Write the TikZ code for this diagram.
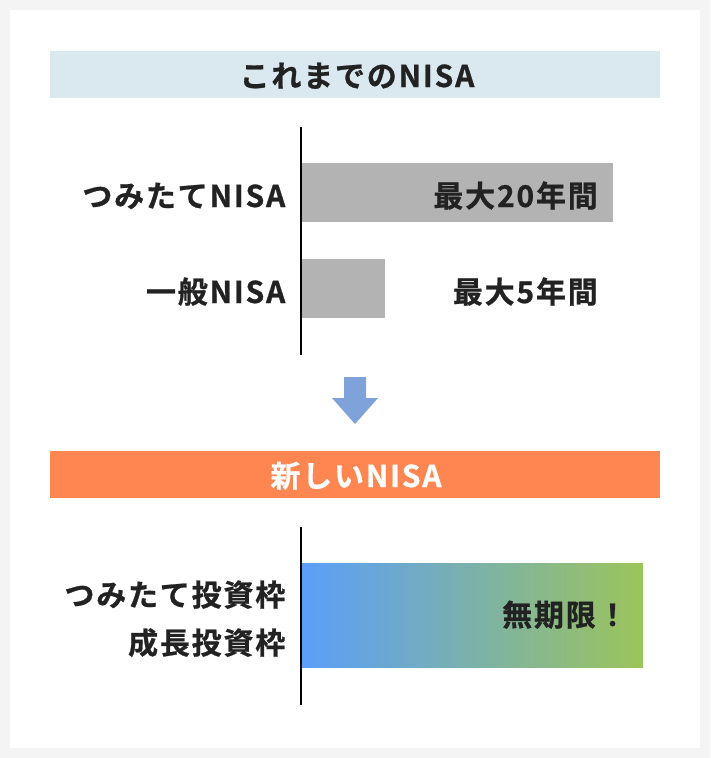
\documentclass[tikz,border=0pt]{standalone}
\usepackage{fontspec}
\newfontfamily\jp{Noto Sans CJK JP}[BoldFont={Noto Sans CJK JP Bold}, BoldFeatures={FakeBold=0.8}, LetterSpace=6]
\definecolor{pagebg}{HTML}{F4F4F4}
\definecolor{txt}{HTML}{222222}
\definecolor{headblue}{HTML}{DAE8EF}
\definecolor{headorange}{HTML}{FF8650}
\definecolor{bargray}{HTML}{B3B3B3}
\definecolor{arrowblue}{HTML}{80A2DB}
\definecolor{gradL}{HTML}{5B9EFA}
\definecolor{gradR}{HTML}{9CC45A}
\tikzset{
  lbl/.style={inner sep=0pt, text=txt, font=\jp\bfseries\fontsize{30}{35}\selectfont},
  axis/.style={line width=2pt, draw=black},
}
\begin{document}
\begin{tikzpicture}[x=1pt,y=-1pt]
\fill[pagebg] (0,0) rectangle (710,758);
\useasboundingbox (0,0) rectangle (710,758);
\fill[white] (10,10) rectangle (700,748);
% header 1
\fill[headblue] (50,51) rectangle (660,98);
\node[lbl, anchor=base] (h1) at (357,87) {これまでのNISA};
% bars
\draw[axis] (301,127) coordinate (ax1top) -- (301,355) coordinate (ax1bot);
\fill[bargray] (302,163) rectangle (613,222);
\fill[bargray] (302,259) rectangle (385,318);
\node[lbl, anchor=base east] (l1) at (285.5,207) {つみたてNISA};
\node[lbl, anchor=base east] (l2) at (285.5,303) {一般NISA};
\node[lbl, anchor=base east] (v1) at (598,207) {最大20年間};
\node[lbl, anchor=base east] (v2) at (598,303) {最大5年間};
% arrow
\fill[arrowblue] (344,377) -- (366,377) -- (366,398) -- (378,398) -- (355,424) -- (332,398) -- (344,398) -- cycle;
% header 2
\fill[headorange] (50,451) rectangle (660,498);
\node[lbl, anchor=base, text=white] (h2) at (356,487) {新しいNISA};
% new
\draw[axis] (301,527) coordinate (ax2top) -- (301,705) coordinate (ax2bot);
\shade[left color=gradL, right color=gradR] (302,563) rectangle (643,667);
\node[lbl, anchor=base east] (l3) at (285.5,606) {つみたて投資枠};
\node[lbl, anchor=base east] (l4) at (285.5,654) {成長投資枠};
\node[lbl, anchor=base west] (v3) at (502,626) {無期限！};
\end{tikzpicture}
\end{document}
